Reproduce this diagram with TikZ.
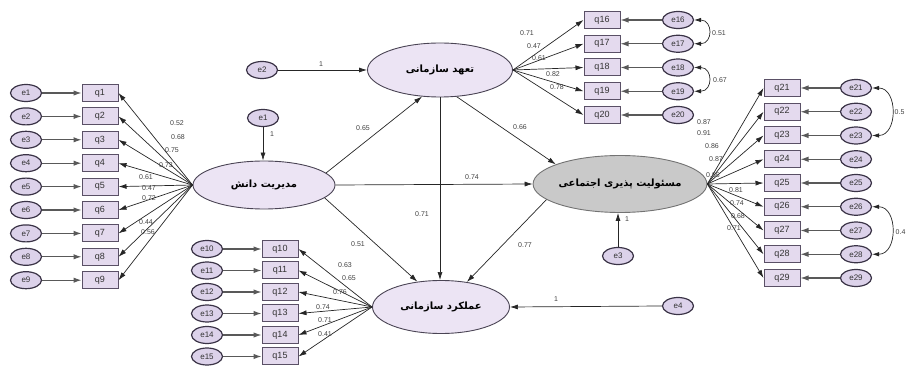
\documentclass[tikz,border=0pt]{standalone}
\usepackage{fontspec}
\setmainfont{Liberation Sans}
\newfontfamily\fa[Script=Arabic]{DejaVu Sans}
\TeXXeTstate=1
\usetikzlibrary{arrows.meta,shapes.geometric,calc}
\definecolor{boxfill}{HTML}{E4DAEE}
\definecolor{boxdraw}{HTML}{5A5066}
\definecolor{errfill}{HTML}{DCD2EA}
\definecolor{errdraw}{HTML}{3A3346}
\definecolor{latfill}{HTML}{ECE4F4}
\definecolor{latdraw}{HTML}{4A4454}
\definecolor{srfill}{HTML}{C9C9C9}
\tikzset{
 obs/.style={rectangle, draw=boxdraw, fill=boxfill, line width=1pt, minimum width=36pt, minimum height=17pt, inner sep=0pt, font=\fontsize{9}{10}\selectfont, text=black!80},
 err/.style={ellipse, draw=errdraw, fill=errfill, line width=1.2pt, minimum width=31pt, minimum height=17pt, inner sep=0pt, font=\fontsize{8}{9}\selectfont, text=black!80},
 lat/.style={ellipse, draw=latdraw, fill=latfill, line width=0.9pt, inner sep=0pt, font=\fa\bfseries\fontsize{10}{11}\selectfont},
 arr/.style={draw=black!85, line width=0.7pt, -{Latex[length=8pt,width=5pt]}},
 arrthick/.style={draw=black!65, line width=1.1pt, -{Latex[length=8pt,width=5.5pt]}},
 cov/.style={draw=black!85, line width=0.7pt, {Latex[length=7pt,width=4.5pt]}-{Latex[length=7pt,width=4.5pt]}},
 lbl/.style={font=\fontsize{7}{8}\selectfont, text=black!75, inner sep=0.5pt},
}
\begin{document}
\begin{tikzpicture}[x=1pt,y=-1pt]
\useasboundingbox (0,0) rectangle (911,379);
% latent variables
\node[lat, minimum width=142pt, minimum height=48pt] (km) at (264,185) {\beginR مدیریت دانش\endR};
\node[lat, minimum width=145pt, minimum height=54pt] (oc) at (440,70) {\beginR تعهد سازمانی\endR};
\node[lat, fill=srfill, draw=black!55, minimum width=140pt, minimum height=57pt] (sr) at (620,184) {\beginR مسئولیت پذیری اجتماعی\endR};
\node[lat, minimum width=137pt, minimum height=53pt] (op) at (441,307) {\beginR عملکرد سازمانی\endR};
% residuals
\node[err] (r1) at (263,118) {e1};
\node[err] (r2) at (262,70) {e2};
\node[err] (r3) at (618,256) {e3};
\node[err] (r4) at (678,306) {e4};
\draw[arr] (r1.south) -- (r1.south |- km.north);
\draw[arr] (r2.east) -- (oc.west);
\draw[arr] (r3.north) -- (r3.north |- sr.south);
\draw[arr] (r4.west) -- (op.east);
\node[lbl] (l1) at (272,134) {1};
\node[lbl] (l2) at (321,64) {1};
\node[lbl] (l3) at (627,219) {1};
\node[lbl] (l4) at (556,299) {1};
% structural paths
\draw[arr] (km.11) -- (oc.236);
\draw[arr] (km.east) -- (sr.west);
\draw[arr] (km.-12) -- (op.133);
\draw[arr] (oc.-58) -- (sr.163);
\draw[arr] (oc.south) -- (oc.south |- op.north);
\draw[arr] (sr.192) -- (op.44);
\node[lbl] (s1) at (363,128) {0.65};
\node[lbl] (s2) at (472,177) {0.74};
\node[lbl] (s3) at (358,244) {0.51};
\node[lbl] (s4) at (520,127) {0.66};
\node[lbl] (s5) at (422,214) {0.71};
\node[lbl] (s6) at (525,245) {0.77};
% left indicators q1-q9
\foreach \i in {1,...,9} {
  \pgfmathsetmacro\yy{93+23.4*(\i-1)}
  \node[err] (e\i) at (26,\yy) {e\i};
  \node[obs] (q\i) at (100,\yy) {q\i};
  \draw[arrthick] (e\i) -- (q\i);
  \draw[arr] (km.west) -- (q\i.east);
}
\foreach \t/\x/\y [count=\k] in {0.52/177/123, 0.68/178/137, 0.75/172/150, 0.73/166/165, 0.61/146/177, 0.47/149/188, 0.72/149/198, 0.44/146/222, 0.56/148/232} {
  \node[lbl] (ll\k) at (\x,\y) {\t};
}
% bottom indicators q10-q15
\foreach \i in {10,...,15} {
  \pgfmathsetmacro\yy{249+21.5*(\i-10)}
  \node[err] (e\i) at (207,\yy) {e\i};
  \node[obs] (q\i) at (280,\yy) {q\i};
  \draw[arrthick] (e\i) -- (q\i);
  \draw[arr] (op.west) -- (q\i.east);
}
\foreach \t/\x/\y [count=\k] in {0.63/345/265, 0.65/349/278, 0.76/340/292, 0.74/323/307, 0.71/325/320, 0.41/325/334} {
  \node[lbl] (lb\k) at (\x,\y) {\t};
}
% top indicators q16-q20
\foreach \i in {16,...,20} {
  \pgfmathsetmacro\yy{20+23.75*(\i-16)}
  \node[err] (e\i) at (678,\yy) {e\i};
  \node[obs] (q\i) at (602,\yy) {q\i};
  \draw[arrthick] (e\i) -- (q\i);
  \draw[arr] (oc.east) -- (q\i.west);
}
\foreach \t/\x/\y [count=\k] in {0.71/527/33, 0.47/534/46, 0.61/539/58, 0.82/553/74, 0.78/557/87} {
  \node[lbl] (lt\k) at (\x,\y) {\t};
}
\draw[cov] (e16.east) .. controls +(19,0) and +(19,0) .. (e17.east);
\draw[cov] (e18.east) .. controls +(19,0) and +(19,0) .. (e19.east);
\node[lbl] (c1) at (719,33) {0.51};
\node[lbl] (c2) at (720,80) {0.67};
% right indicators q21-q29
\foreach \i in {21,...,29} {
  \pgfmathsetmacro\yy{88+23.75*(\i-21)}
  \node[err] (e\i) at (856,\yy) {e\i};
  \node[obs] (q\i) at (782,\yy) {q\i};
  \draw[arrthick] (e\i) -- (q\i);
  \draw[arr] (sr.east) -- (q\i.west);
}
\foreach \t/\x/\y [count=\k] in {0.87/704/122, 0.91/704/133, 0.86/712/146, 0.87/716/159, 0.85/713/175, 0.81/736/190, 0.74/737/203, 0.68/738/216, 0.71/734/228} {
  \node[lbl] (lr\k) at (\x,\y) {\t};
}
\draw[cov] (e21.east) .. controls +(26,0) and +(26,0) .. (e23.east);
\draw[cov] (e26.east) .. controls +(26,0) and +(26,0) .. (e28.east);
\node[lbl, anchor=west] (c3) at (894,112) {0.5};
\node[lbl, anchor=west] (c4) at (895,232) {0.4};
\end{tikzpicture}
\end{document}
